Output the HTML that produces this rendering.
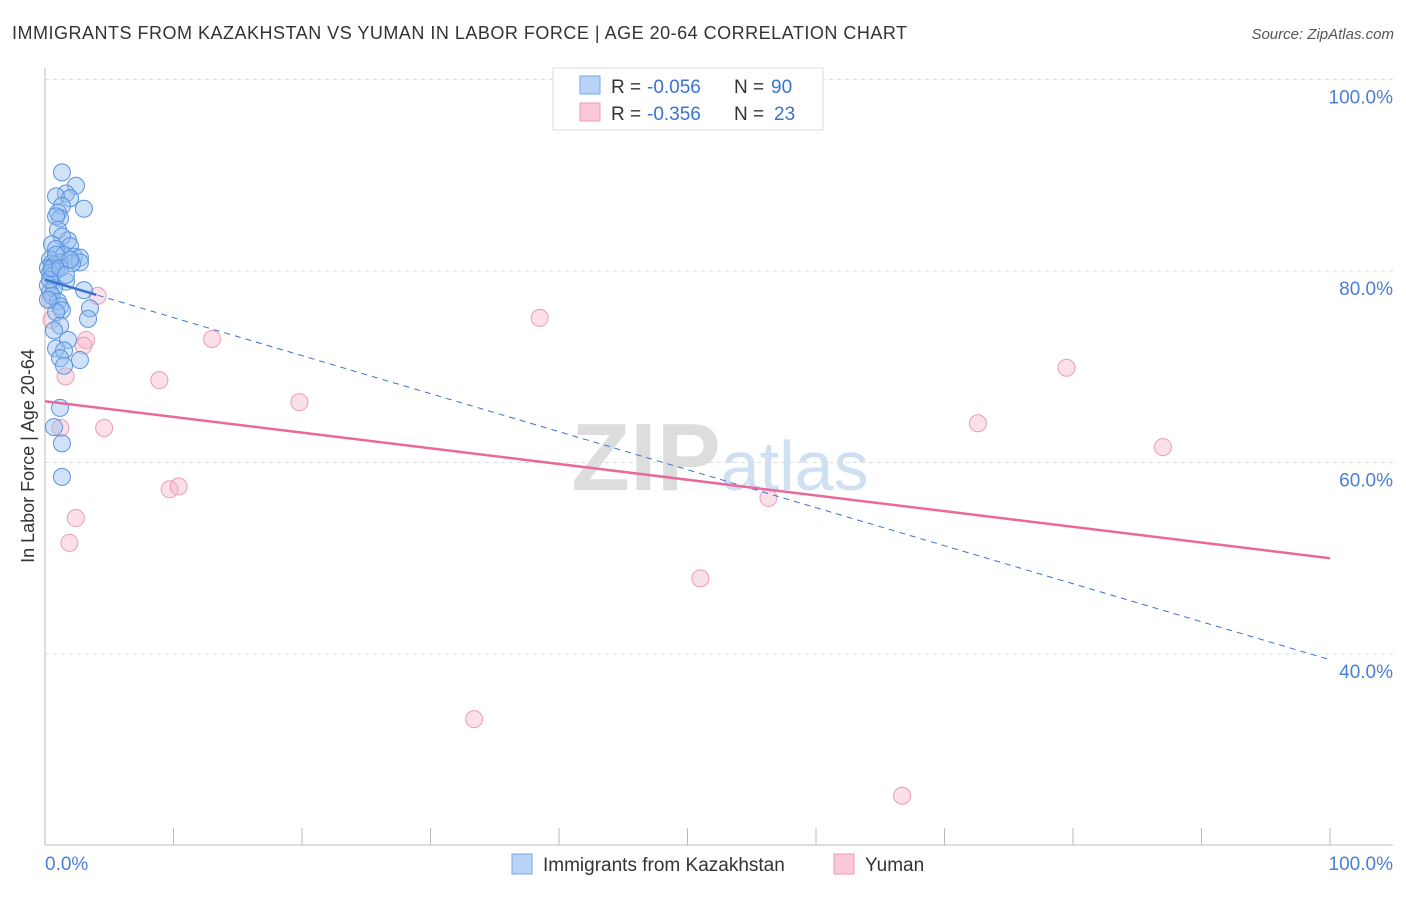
<!DOCTYPE html>
<html><head><meta charset="utf-8"><style>
body{margin:0;background:#fff;font-family:"Liberation Sans",sans-serif}
svg text{font-family:"Liberation Sans",sans-serif}
</style></head><body>
<svg width="1406" height="892">
<text x="12" y="39" font-size="18" fill="#333" textLength="895" lengthAdjust="spacing">IMMIGRANTS FROM KAZAKHSTAN VS YUMAN IN LABOR FORCE | AGE 20-64 CORRELATION CHART</text>
<text x="1394" y="39" font-size="15" fill="#555" text-anchor="end" font-style="italic">Source: ZipAtlas.com</text>
<text x="720" y="490" font-size="96" fill="#ddd" text-anchor="middle" font-weight="bold" font-family="Liberation Serif">ZIP<tspan fill="#cfe0f3" font-family="Liberation Sans" font-weight="normal" font-size="70">atlas</tspan></text>
<g id="grid"></g>
<line x1="45" y1="68" x2="45" y2="845" stroke="#bbb"/>
<line x1="45" y1="845" x2="1393" y2="845" stroke="#bbb"/>
<g id="ticks"></g>
<g id="pts"></g>
<g id="lines"></g>
<text x="34" y="456" font-size="18" fill="#333" text-anchor="middle" transform="rotate(-90 34 456)">In Labor Force | Age 20-64</text>
<text x="45" y="870" font-size="19" fill="#4a7fd4">0.0%</text>
<text x="1393" y="870" font-size="19" fill="#4a7fd4" text-anchor="end">100.0%</text>
<g>
<rect x="553" y="68" width="270" height="62" fill="#fff" stroke="#ddd"/>
<rect x="580" y="76" width="20" height="18" fill="#b8d3f7" stroke="#7aa7e8"/>
<rect x="580" y="103" width="20" height="18" fill="#fbc8d8" stroke="#ee9ab5"/>
<text x="611" y="93" font-size="19" fill="#333">R =</text>
<text x="647" y="93" font-size="19" fill="#3a72d0">-0.056</text>
<text x="734" y="93" font-size="19" fill="#333">N =</text>
<text x="771" y="93" font-size="19" fill="#3a72d0">90</text>
<text x="611" y="120" font-size="19" fill="#333">R =</text>
<text x="647" y="120" font-size="19" fill="#3a72d0">-0.356</text>
<text x="734" y="120" font-size="19" fill="#333">N =</text>
<text x="774" y="120" font-size="19" fill="#3a72d0">23</text>
</g>
<g>
<rect x="512" y="854" width="20" height="20" fill="#b8d3f7" stroke="#7aa7e8"/>
<text x="543" y="871" font-size="19" fill="#333">Immigrants from Kazakhstan</text>
<rect x="834" y="854" width="20" height="20" fill="#fbc8d8" stroke="#ee9ab5"/>
<text x="865" y="871" font-size="19" fill="#333">Yuman</text>
</g>
</svg>
<script>
const yTicks=[100,80,60,40];
const xTicks=[10,20,30,40,50,60,70,80,90,100];
const blueX=[1.32,2.41,1.63,0.86,1.95,3.03,1.32,1.01,1.17,0.86,1.01,1.79,1.32,0.54,1.95,0.86,1.48,2.26,2.72,0.39,1.17,0.54,2.72,2.1,0.7,0.23,0.86,0.39,0.54,1.63,0.23,0.7,0.39,3.03,0.54,1.01,1.17,3.5,1.32,0.86,3.35,1.17,0.7,1.79,0.86,1.48,2.72,1.17,1.48,1.17,0.7,1.32,1.32,0.39,0.23,0.54,0.86,1.17,1.63,1.95];
const blueY=[90.3,88.9,88.1,87.8,87.6,86.5,86.8,86.1,85.5,85.7,84.3,83.2,83.6,82.8,82.6,82.3,81.7,81.5,81.4,81.2,80.9,80.8,80.9,80.8,80.6,80.3,80.1,79.8,79.5,78.9,78.5,78.2,77.8,78.0,77.4,76.8,76.3,76.1,75.9,75.7,75.0,74.3,73.8,72.8,71.9,71.7,70.7,70.9,70.1,65.7,63.7,62.0,58.5,79.1,77.0,80.3,81.7,80.3,79.6,81.2];
const pinkX=[4.1,3.2,3.0,1.6,1.2,4.6,13.0,8.9,19.8,38.5,9.7,10.4,2.4,1.9,56.3,51.0,33.4,66.7,72.6,79.5,87.0,0.4,0.5];
const pinkY=[77.4,72.8,72.2,69.0,63.6,63.6,72.9,68.6,66.3,75.1,57.2,57.5,54.2,51.6,56.3,47.9,33.2,25.2,64.1,69.9,61.6,77.0,74.9];
const blueTrend=[79.1,39.4];
const pinkTrend=[66.4,50.0];
const sx=v=>45+v*12.85;
const sy=v=>79.5+(100-v)*9.575;
const NS='http://www.w3.org/2000/svg';
function mk(t,a,p){const e=document.createElementNS(NS,t);for(const k in a)e.setAttribute(k,a[k]);document.getElementById(p).appendChild(e);return e;}
yTicks.forEach(v=>{
 const g=mk('line',{x1:45,x2:1393,y1:sy(v),y2:sy(v),stroke:'#ddd','stroke-dasharray':'4,4'},'grid');
 
 
 const t=mk('text',{x:1393,y:sy(v)+24,'font-size':19,fill:'#4a7fd4','text-anchor':'end'},'grid');
 t.textContent=v.toFixed(1)+'%';
 
 
});
xTicks.forEach(v=>{
 const l=mk('line',{x1:sx(v),x2:sx(v),y1:828,y2:845,stroke:'#bbb'},'ticks');
 
 
});
pinkX.forEach((x,i)=>{
 const c=mk('circle',{cx:sx(x),cy:sy(pinkY[i]),r:8.5,fill:'rgba(247,178,200,0.4)',stroke:'#ee9ab5','stroke-width':1},'pts');
 
 
});
blueX.forEach((x,i)=>{
 const c=mk('circle',{cx:sx(x),cy:sy(blueY[i]),r:8.5,fill:'rgba(150,190,240,0.45)',stroke:'#5a92df','stroke-width':1},'pts');
 
 
});
const bt=v=>blueTrend[0]+(blueTrend[1]-blueTrend[0])*v/100;
let l1=mk('line',{x1:sx(0),y1:sy(bt(0)),x2:sx(100),y2:sy(bt(100)),stroke:'#3a72d0','stroke-width':1,'stroke-dasharray':'6,5'},'lines');


let l2=mk('line',{x1:sx(0),y1:sy(bt(0)),x2:sx(4),y2:sy(bt(4)),stroke:'#3a72d0','stroke-width':2.5},'lines');


let l3=mk('line',{x1:sx(0),y1:sy(pinkTrend[0]),x2:sx(100),y2:sy(pinkTrend[1]),stroke:'#e8699a','stroke-width':2.5},'lines');


</script>
</body></html>
